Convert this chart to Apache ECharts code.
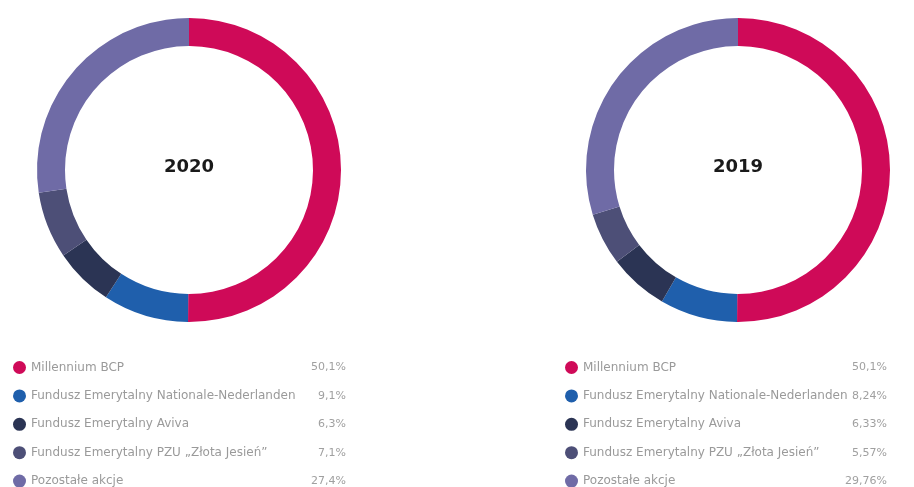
<!DOCTYPE html>
<html>
<head>
<meta charset="utf-8">
<script src="https://cdn.jsdelivr.net/npm/echarts@6/dist/echarts.min.js"></script>
<style>
html,body{margin:0;padding:0;background:#fff;}
#chart{width:914px;height:487px;}
</style>
</head>
<body>
<div id="chart"></div>
<script>
const categories = ['Millennium BCP', 'Fundusz Emerytalny Nationale-Nederlanden', 'Fundusz Emerytalny Aviva', 'Fundusz Emerytalny PZU „Złota Jesień”', 'Pozostałe akcje'];
const values2020 = [50.1, 9.1, 6.3, 7.1, 27.4];
const values2019 = [50.1, 8.24, 6.33, 5.57, 29.76];
const labels2020 = ['50,1%', '9,1%', '6,3%', '7,1%', '27,4%'];
const labels2019 = ['50,1%', '8,24%', '6,33%', '5,57%', '29,76%'];
const years = ['2020', '2019'];
const colors = ['#cf0a58', '#1f5fac', '#2b3454', '#4d4f77', '#6f6ba6'];

const chart = echarts.init(document.getElementById('chart'));
const font = 'DejaVu Sans';

function makeLegend(id, left, nameW, labels) {
  return {
    id: id,
    orient: 'vertical',
    left: left,
    top: 356,
    height: 135,
    itemWidth: 13,
    itemHeight: 13,
    itemGap: 15.4,
    icon: 'circle',
    selectedMode: false,
    data: categories,
    formatter: function (name) {
      const i = categories.indexOf(name);
      return '{n|' + name + '}{v|' + labels[i] + '}';
    },
    textStyle: {
      rich: {
        n: { width: nameW, fontSize: 12, color: '#9a9a9a', fontFamily: font, lineHeight: 13 },
        v: { width: 60, align: 'right', fontSize: 11, color: '#a0a0a0', fontFamily: font, lineHeight: 13 }
      }
    }
  };
}

function makePie(name, center, values) {
  return {
    name: name,
    type: 'pie',
    center: center,
    radius: [124, 152],
    startAngle: 90,
    clockwise: true,
    silent: true,
    label: { show: false },
    labelLine: { show: false },
    emphasis: { disabled: true },
    data: categories.map((c, i) => ({ name: c, value: values[i], itemStyle: { color: colors[i] } }))
  };
}

chart.setOption({
  animation: false,
  color: colors,
  legend: [
    makeLegend('l1', 8, 255, labels2020),
    makeLegend('l2', 560, 244, labels2019)
  ],
  series: [
    makePie(years[0], [189, 170], values2020),
    makePie(years[1], [738, 170], values2019)
  ],
  graphic: [
    { type: 'text', x: 189, y: 167, style: { text: years[0], fontSize: 18, fontWeight: 'bold', fill: '#1a1a1a', fontFamily: 'DejaVu Sans', textAlign: 'center', textVerticalAlign: 'middle' } },
    { type: 'text', x: 738, y: 167, style: { text: years[1], fontSize: 18, fontWeight: 'bold', fill: '#1a1a1a', fontFamily: 'DejaVu Sans', textAlign: 'center', textVerticalAlign: 'middle' } }
  ]
});
</script>
</body>
</html>
